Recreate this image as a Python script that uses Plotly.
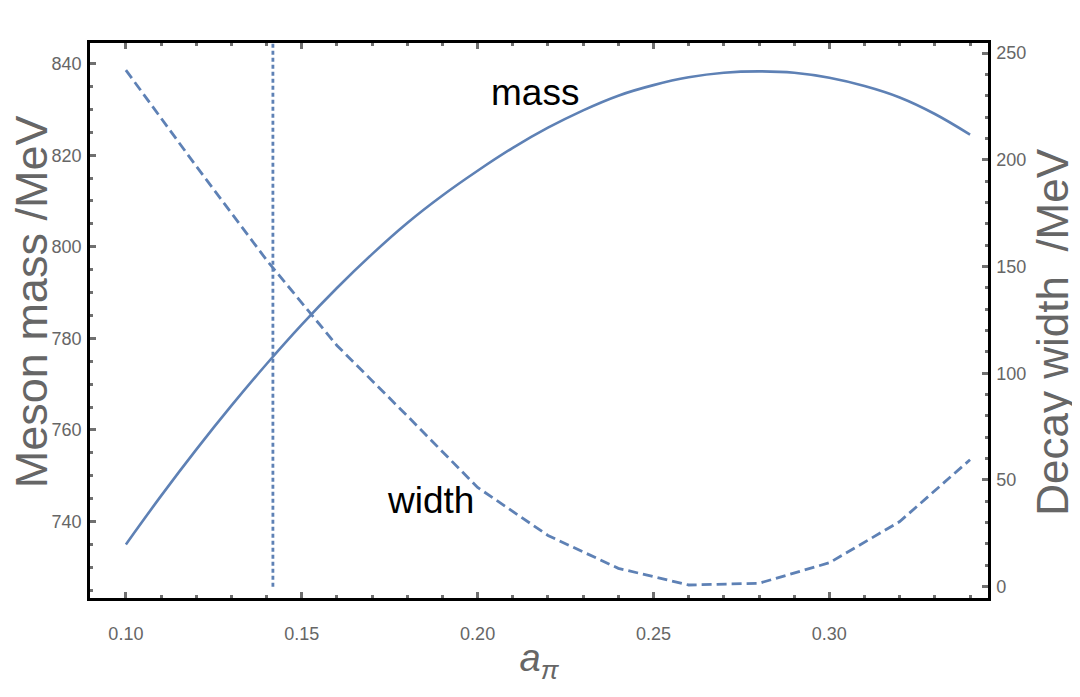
import plotly.graph_objects as go

# ---- data ----
a_mass = [0.10, 0.11, 0.12, 0.13, 0.14, 0.15, 0.16, 0.17, 0.18, 0.19, 0.20, 0.21,
          0.22, 0.23, 0.24, 0.25, 0.26, 0.27, 0.28, 0.29, 0.30, 0.31, 0.32, 0.33, 0.34]
mass = [735.0, 745.6, 755.7, 765.3, 774.4, 783.0, 791.0, 798.4, 805.2, 811.2, 816.6, 821.6,
        826.0, 829.8, 833.0, 835.3, 837.0, 838.0, 838.3, 838.0, 836.9, 835.1, 832.6, 829.0, 824.5]

a_width = [0.10, 0.12, 0.14, 0.16, 0.18, 0.20, 0.22, 0.24, 0.26, 0.28, 0.30, 0.32, 0.34]
width = [242.0, 197.0, 153.0, 113.0, 80.0, 46.5, 24.0, 8.6, 0.8, 1.6, 11.2, 30.5, 59.5]

a_marker = [0.1418, 0.1418]
marker_span = [0, 260]

x_ticks = [0.10, 0.15, 0.20, 0.25, 0.30]
x_ticklabels = ["0.10", "0.15", "0.20", "0.25", "0.30"]
mass_ticks = [740, 760, 780, 800, 820, 840]
width_ticks = [0, 50, 100, 150, 200, 250]

labels = ["mass", "width"]
label_x = [0.2163, 0.1867]
label_y = [833.6, 744.7]

y_title_left = "Meson mass /MeV"
y_title_right = "Decay width  /MeV"

# ---- style ----
LINE = "#5E81B5"
GRAY = "#666666"
TICK = "#707070"
FONT = "Liberation Sans, Arial, sans-serif"

fig = go.Figure()

fig.add_trace(go.Scatter(x=a_mass, y=mass, mode="lines", line_shape="spline",
                         line=dict(color=LINE, width=2.6), yaxis="y", showlegend=False))
fig.add_trace(go.Scatter(x=a_width, y=width, mode="lines",
                         line=dict(color=LINE, width=2.8, dash="10px,5px"),
                         yaxis="y2", showlegend=False))
fig.add_trace(go.Scatter(x=a_marker, y=marker_span, mode="lines",
                         line=dict(color=LINE, width=2.8, dash="4px,3px"),
                         yaxis="y2", showlegend=False))

for t, x, y in zip(labels, label_x, label_y):
    fig.add_annotation(x=x, y=y, xref="x", yref="y", text=t, showarrow=False,
                       font=dict(family=FONT, size=37, color="black"))

# axis titles as rotated annotations (positioned in paper space)
fig.add_annotation(x=-0.0657, y=0.533, xref="paper", yref="paper", text=y_title_left,
                   textangle=-90, showarrow=False, xanchor="center", yanchor="middle",
                   font=dict(family=FONT, size=45, color=GRAY))
fig.add_annotation(x=1.0724, y=0.478, xref="paper", yref="paper", text=y_title_right,
                   textangle=-90, showarrow=False, xanchor="center", yanchor="middle",
                   font=dict(family=FONT, size=44, color=GRAY))

fig.update_layout(
    width=1080, height=697,
    margin=dict(l=82, r=100, t=35, b=107),
    paper_bgcolor="white", plot_bgcolor="white",
    font=dict(family=FONT, color=GRAY),
    xaxis=dict(
        range=[0.0898, 0.3451], tickvals=x_ticks, ticktext=x_ticklabels,
        ticks="inside", ticklen=6, tickwidth=2.5, tickcolor=TICK,
        minor=dict(dtick=0.01, tick0=0, ticks="inside", ticklen=3, tickwidth=2.5, tickcolor=TICK),
        showline=True, linecolor="black", linewidth=2.5, mirror="ticks",
        showgrid=False, zeroline=False, automargin=False,
        tickfont=dict(size=18, color=GRAY), ticklabelstandoff=18,
        title=dict(text="<i>a</i><sub><i>π</i></sub>", font=dict(size=38, color=GRAY), standoff=2),
    ),
    yaxis=dict(
        range=[723.3, 844.5], tickvals=mass_ticks,
        ticks="inside", ticklen=6, tickwidth=2.5, tickcolor=TICK,
        minor=dict(dtick=5, tick0=0, ticks="inside", ticklen=3, tickwidth=2.5, tickcolor=TICK),
        showline=True, linecolor="black", linewidth=2.5, mirror=False,
        showgrid=False, zeroline=False, automargin=False,
        tickfont=dict(size=18, color=GRAY), ticklabelstandoff=2,
    ),
    yaxis2=dict(
        overlaying="y", side="right",
        range=[-5.3, 254.7], tickvals=width_ticks,
        ticks="inside", ticklen=6, tickwidth=2.5, tickcolor=TICK,
        minor=dict(dtick=10, tick0=0, ticks="inside", ticklen=3, tickwidth=2.5, tickcolor=TICK),
        showline=True, linecolor="black", linewidth=2.5,
        showgrid=False, zeroline=False, automargin=False,
        tickfont=dict(size=18, color=GRAY), ticklabelstandoff=2,
    ),
)

fig.write_html("out.html")
